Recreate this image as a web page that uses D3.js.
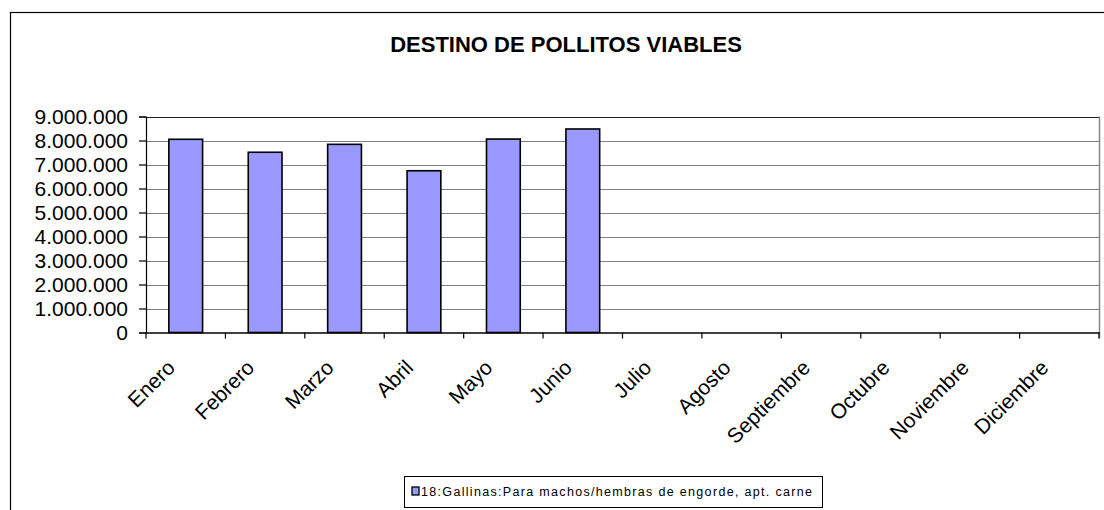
<!DOCTYPE html>
<html>
<head>
<meta charset="utf-8">
<script src="https://cdn.jsdelivr.net/npm/d3@7"></script>
<style>
html,body{margin:0;padding:0;background:#fff;}
svg{display:block;}
text{font-family:"Liberation Sans",Arial,sans-serif;fill:#000;}
</style>
</head>
<body>
<svg id="chart" width="1104" height="510"></svg>
<script>
const title = "DESTINO DE POLLITOS VIABLES";
const months = ["Enero","Febrero","Marzo","Abril","Mayo","Junio","Julio","Agosto","Septiembre","Octubre","Noviembre","Diciembre"];
const seriesName = "18:Gallinas:Para machos/hembras de engorde, apt. carne";
const values = [8050000, 7510000, 7840000, 6740000, 8060000, 8480000, null, null, null, null, null, null];
const yTicks = [0,1000000,2000000,3000000,4000000,5000000,6000000,7000000,8000000,9000000];

const svg = d3.select("#chart");
const W = 1104, H = 510;
const plot = {left: 146, right: 1099, top: 116.5, bottom: 332.5};

// outer chart border
svg.append("rect").attr("x",10.5).attr("y",12.5).attr("width",W+20).attr("height",H+20)
  .attr("fill","#fff").attr("stroke","#000").attr("stroke-width",1.2);

svg.append("text").attr("x",566).attr("y",52).attr("text-anchor","middle")
  .attr("font-size",22).attr("font-weight","bold").text(title);

const x = d3.scaleBand().domain(months).range([plot.left, plot.right]).paddingInner(0.575).paddingOuter(0.2875);
const xb = d3.scaleBand().domain(months).range([plot.left, plot.right]);
const y = d3.scaleLinear().domain([0,9000000]).range([plot.bottom, plot.top]);

const fmt = v => d3.format(",")(v).replace(/,/g,".");

// gridlines
svg.append("g").selectAll("line").data(yTicks.filter(d=>d>0)).join("line")
  .attr("x1",plot.left).attr("x2",plot.right)
  .attr("y1",d=>Math.round(y(d))+0.5).attr("y2",d=>Math.round(y(d))+0.5)
  .attr("stroke",d=>d===9000000?"#222":"#808080").attr("stroke-width",1.2);
// plot right border
svg.append("line").attr("x1",plot.right+0.5).attr("x2",plot.right+0.5)
  .attr("y1",plot.top).attr("y2",plot.bottom+6).attr("stroke","#808080").attr("stroke-width",1.4);

// bars
svg.append("g").selectAll("rect").data(months.map((m,i)=>({m,v:values[i]})).filter(d=>d.v!=null)).join("rect")
  .attr("x",d=>x(d.m)).attr("width",x.bandwidth())
  .attr("y",d=>y(d.v)).attr("height",d=>y(0)-y(d.v))
  .attr("fill","#9999FF").attr("stroke","#000").attr("stroke-width",1.6);

// y axis
const yAxis = d3.axisLeft(y).tickValues(yTicks).tickFormat(fmt).tickSize(7).tickPadding(11);
const gy = svg.append("g").attr("transform",`translate(${plot.left},0)`).call(yAxis);
gy.select(".domain").attr("stroke","#000").attr("stroke-width",1.2);
gy.selectAll(".tick line").attr("stroke","#000").attr("stroke-width",1.2);
gy.selectAll("text").attr("font-size",21).attr("font-family","Liberation Sans, Arial, sans-serif").attr("fill","#000");

// x axis
const xAxis = d3.axisBottom(xb).tickSize(0).tickFormat("");
const gx = svg.append("g").attr("transform",`translate(0,${plot.bottom})`).call(xAxis);
gx.select(".domain").attr("stroke","#000").attr("stroke-width",1.4);
svg.append("g").selectAll("line").data(months.concat(["_end"])).join("line")
  .attr("x1",(d,i)=>plot.left + i*xb.step()).attr("x2",(d,i)=>plot.left + i*xb.step())
  .attr("y1",plot.bottom).attr("y2",plot.bottom+6).attr("stroke","#000").attr("stroke-width",1.2);

svg.append("g").selectAll("text").data(months).join("text")
  .attr("transform",d=>`translate(${xb(d)+xb.bandwidth()/2-9.5},${plot.bottom+36.5}) rotate(-45)`)
  .attr("text-anchor","end").attr("font-size",21).text(d=>d);

// legend
const lg = svg.append("g");
lg.append("rect").attr("x",404.5).attr("y",476.5).attr("width",418).attr("height",31)
  .attr("fill","#fff").attr("stroke","#000").attr("stroke-width",1);
lg.append("rect").attr("x",412).attr("y",487).attr("width",7).attr("height",8)
  .attr("fill","#9999FF").attr("stroke","#000").attr("stroke-width",1.3);
lg.append("text").attr("x",421).attr("y",496).attr("font-size",12.5)
  .attr("textLength",391).attr("lengthAdjust","spacing").text(seriesName);
</script>
</body>
</html>
